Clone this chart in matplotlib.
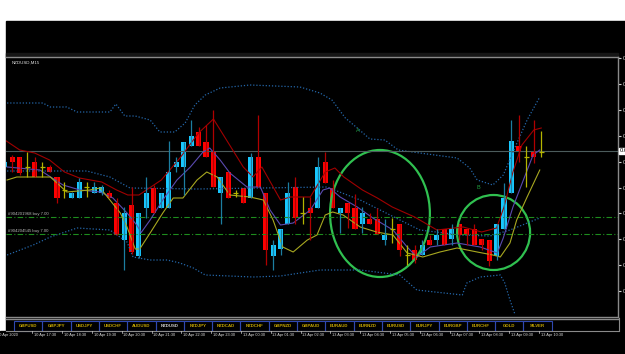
import matplotlib
matplotlib.use("Agg")
import matplotlib.pyplot as plt
from matplotlib.patches import Rectangle, Ellipse
import numpy as np

plt.rcParams["font.family"] = ["Liberation Sans", "DejaVu Sans"]

# ---- data (prices in 1e-5 points, NZDUSD M15) ----
opens = [60732, 60772, 60772, 60732, 60752, 60732, 60732, 60692, 60640, 60608,
         60608, 60652, 60628, 60628, 60628, 60588, 60440, 60580, 60376, 60568,
         60648, 60568, 60568, 60732, 60732, 60816, 60872, 60832, 60792, 60628,
         60712, 60628, 60648, 60608, 60772, 60628, 60376, 60404, 60504, 60652,
         60548, 60568, 60568, 60752, 60648, 60548, 60588, 60568, 60504, 60524,
         60524, 60440, 60484, 60504, 60380, 60400, 60380, 60440, 60440, 60484,
         60444, 60504, 60484, 60484, 60444, 60440, 60376, 60484, 60628, 60816,
         60772, 60792, 60792]
highs = [60760, 60780, 60772, 60792, 60772, 60752, 60740, 60692, 60672, 60632,
         60688, 60672, 60672, 60660, 60640, 60608, 60572, 60652, 60548, 60692,
         60660, 60628, 60836, 60772, 60832, 60920, 60892, 60900, 60960, 60692,
         60712, 60640, 60648, 60788, 60940, 60628, 60440, 60484, 60672, 60692,
         60612, 60612, 60772, 60792, 60680, 60568, 60588, 60624, 60572, 60548,
         60568, 60524, 60528, 60504, 60420, 60420, 60440, 60460, 60484, 60484,
         60504, 60504, 60484, 60504, 60444, 60440, 60504, 60668, 60920, 60940,
         60816, 60920, 60876]
lows = [60724, 60712, 60700, 60692, 60692, 60692, 60712, 60588, 60608, 60608,
        60608, 60612, 60628, 60620, 60608, 60460, 60320, 60384, 60368, 60528,
        60548, 60568, 60568, 60712, 60620, 60816, 60816, 60772, 60652, 60504,
        60608, 60612, 60588, 60608, 60652, 60340, 60320, 60380, 60504, 60504,
        60504, 60440, 60568, 60668, 60568, 60468, 60488, 60484, 60468, 60504,
        60464, 60420, 60428, 60376, 60340, 60348, 60380, 60420, 60420, 60420,
        60420, 60440, 60420, 60420, 60400, 60336, 60360, 60484, 60628, 60752,
        60652, 60748, 60772]
closes = [60752, 60752, 60708, 60732, 60692, 60732, 60712, 60608, 60640, 60628,
          60672, 60652, 60652, 60652, 60608, 60460, 60548, 60392, 60548, 60628,
          60548, 60628, 60712, 60752, 60832, 60856, 60816, 60772, 60652, 60692,
          60608, 60628, 60588, 60772, 60652, 60400, 60420, 60484, 60628, 60528,
          60548, 60548, 60732, 60668, 60568, 60568, 60548, 60484, 60548, 60504,
          60464, 60460, 60484, 60400, 60380, 60360, 60420, 60420, 60460, 60420,
          60484, 60460, 60460, 60420, 60420, 60356, 60504, 60608, 60836, 60792,
          60772, 60772, 60792]

# moving averages (candle index, price)
ma_red_x = [0, 2, 4, 6, 8, 10, 13, 15, 16.5, 18, 21, 23.5, 26, 28, 30, 32, 33.3, 34.5,
            37, 38.3, 41, 43, 44.3, 45.5, 48, 50, 52, 55, 58, 61.5, 64, 66, 67, 68.2,
            69.4, 71, 72]
ma_red = [60840, 60800, 60788, 60760, 60712, 60688, 60672, 60640, 60620, 60620, 60680,
          60768, 60868, 60924, 60828, 60732, 60692, 60732, 60600, 60612, 60612, 60712,
          60728, 60692, 60640, 60608, 60572, 60532, 60480, 60492, 60472, 60488, 60572,
          60712, 60820, 60880, 60888]
ma_purple_x = [0.3, 4.7, 7.8, 10.1, 12.8, 14.5, 16.4, 17.7, 18.3, 19.5, 21.2, 23.1, 24.9,
               26.6, 27.5, 28.9, 30.2, 32.5, 34.3, 35.6, 37, 38.7, 41, 42.7, 43.6, 45,
               47.3, 49.4, 52.1, 54, 55.3, 57.1, 60.7, 63.8, 66.1, 66.9, 68.2, 69.6,
               70.9, 71.8]
ma_purple = [60732, 60720, 60660, 60640, 60632, 60608, 60548, 60500, 60470, 60520, 60600,
             60680, 60732, 60792, 60808, 60760, 60708, 60652, 60652, 60560, 60500, 60508,
             60560, 60640, 60648, 60612, 60572, 60528, 60480, 60412, 60372, 60412, 60428,
             60412, 60388, 60448, 60572, 60680, 60780, 60800]
ma_yellow_x = [0.3, 1.6, 6.1, 7, 8.3, 11.4, 12.8, 14.1, 15.5, 16.4, 17.5, 18.1, 19.5, 21.2,
               22.6, 23.9, 25.8, 27.1, 28.5, 30.2, 32.9, 34.7, 36, 37.3, 38.7, 40.6, 41.9,
               43, 44, 45.4, 47.7, 49.9, 52.1, 54, 56.1, 58.4, 60.7, 63.4, 65.5, 66.5,
               67.8, 68.7, 70.1, 71.8]
ma_yellow = [60680, 60692, 60692, 60668, 60632, 60640, 60648, 60600, 60548, 60492, 60404,
             60404, 60468, 60548, 60608, 60608, 60680, 60712, 60692, 60620, 60612, 60600,
             60520, 60412, 60392, 60440, 60460, 60540, 60552, 60540, 60492, 60472, 60460,
             60388, 60372, 60392, 60408, 60392, 60380, 60372, 60428, 60520, 60612, 60720]

# bollinger bands
bb_up_x = [0.3, 5.1, 6.1, 8.3, 9.7, 14.1, 14.9, 16.1, 17.5, 19.5, 20.8, 22.8, 24.2, 25.5,
           26.9, 28.9, 32.9, 39.6, 42.3, 43.9, 45.7, 47.3, 49, 51, 52.8, 55.7, 60.7,
           62.4, 63.4, 65.5, 66.9, 68.5, 70.1, 71.8]
bb_up = [60988, 60988, 60972, 60972, 60952, 60952, 60984, 60936, 60936, 60920, 60872,
         60872, 60908, 60980, 61020, 61048, 61060, 61052, 61028, 61000, 60928, 60888,
         60844, 60840, 60800, 60788, 60768, 60728, 60680, 60660, 60700, 60812, 60920, 61012]
bb_mid_x = [0.3, 11, 14.1, 16.8, 25.8, 43.2, 47.7, 51.7, 55.7, 61.1, 65.1, 67.8, 71.8]
bb_mid = [60716, 60716, 60692, 60648, 60644, 60652, 60600, 60540, 60480, 60460, 60456,
          60480, 60528]
bb_lo_x = [0.3, 3.8, 6.1, 9.7, 14.1, 16.4, 17.2, 19.5, 21.8, 23.5, 25.3, 26.9, 33.3, 37,
           42.3, 47.7, 53, 55.3, 61.4, 62, 63.8, 66.5, 67.1, 67.8, 68.5]
bb_lo = [60380, 60420, 60452, 60488, 60480, 60432, 60372, 60360, 60360, 60348, 60328,
         60300, 60292, 60296, 60320, 60320, 60300, 60240, 60220, 60268, 60292, 60300,
         60268, 60200, 60140]

bid = 60796
orders = [("#904201968 buy 7.00", 60532), ("#904204545 buy 7.00", 60464)]
price_ticks = [61168, 61064, 60960, 60856, 60752, 60648, 60548, 60444, 60340, 60236]

time_idx = [-1, 4, 8, 12, 16, 20, 24, 28, 32, 36, 40, 44, 48, 52, 56, 60, 64, 68, 72]
time_lbl = ["10 Apr 2020", "10 Apr 17:30", "10 Apr 18:30", "10 Apr 19:30", "10 Apr 20:30",
            "10 Apr 21:30", "10 Apr 22:30", "10 Apr 23:30", "13 Apr 00:30", "13 Apr 01:30",
            "13 Apr 02:30", "13 Apr 03:30", "13 Apr 04:30", "13 Apr 05:30", "13 Apr 06:30",
            "13 Apr 07:30", "13 Apr 08:30", "13 Apr 09:30", "13 Apr 10:30"]
tabs = ["GBPUSD", "GBPJPY", "USDJPY", "USDCHF", "AUDUSD", "NZDUSD", "NZDJPY", "NZDCAD",
        "NZDCHF", "GBPNZD", "GBPAUD", "EURAUD", "EURNZD", "EURUSD", "EURJPY", "EURGBP",
        "EURCHF", "GOLD", "SILVER"]

pts = 1e-5
o = np.array(opens) * pts
h = np.array(highs) * pts
l = np.array(lows) * pts
c = np.array(closes) * pts
idx = np.arange(len(o))

W, H = 625, 354
fig = plt.figure(figsize=(W / 100, H / 100), dpi=100)
fig.patch.set_facecolor("white")

# background / frame in pixel coordinates
bg = fig.add_axes([0, 0, 1, 1])
bg.set_xlim(0, W)
bg.set_ylim(H, 0)
bg.axis("off")
bg.add_patch(Rectangle((6, 20.5), W - 6, H - 20.5, color="black"))
bg.add_patch(Rectangle((0, 331), 6, H - 331, color="black"))
bg.add_patch(Rectangle((6, 53), 612, 4, color="#161616"))
bg.plot([6, 618], [318.5, 318.5], color="#8a8a8a", lw=1)
bg.plot([6, 618], [330.5, 330.5], color="#8a8a8a", lw=0.8)
bg.plot([618.5, 618.5], [318, 331], color="#8a8a8a", lw=0.8)
for k, t in enumerate(tabs):
    x0 = 14 + k * 28.3
    bg.add_patch(Rectangle((x0, 320.5), 28.3, 10, fill=False, ec="#2f48b0", lw=0.8))
    bg.text(x0 + 14.15, 325.7, t, color="#d0d0d0" if t == "NZDUSD" else "#c8a800",
            fontsize=3.2, ha="center", va="center", fontweight="bold")

# main chart
ax = fig.add_axes([6 / W, 1 - 317 / H, 612 / W, 260 / H])
ax.set_facecolor("black")
ax.set_xlim(0.154, 82.3)
ax.set_ylim(0.60132, 0.61172)
ax.spines["left"].set_visible(False)
for s in ["top", "right", "bottom"]:
    ax.spines[s].set_color("#8a8a8a")
    ax.spines[s].set_linewidth(1)
ax.set_xticks([])
ax.yaxis.tick_right()
ax.set_yticks(np.array(price_ticks) * pts)
ax.set_yticklabels(["%.5f" % (p * pts) for p in price_ticks])
ax.tick_params(axis="y", colors="#d0d0d0", labelsize=4.2, length=2, pad=1.5)

# bands
for bx, by in [(bb_up_x, bb_up), (bb_mid_x, bb_mid), (bb_lo_x, bb_lo)]:
    ax.plot(bx, np.array(by) * pts, color="#2466a8", lw=0.9, ls=(0, (1, 1.5)))

# horizontal lines
ax.axhline(bid * pts, color="#4c5c5c", lw=0.8)
for lbl, p in orders:
    ax.axhline(p * pts, color="#1e8c1e", lw=0.8, ls=(0, (5, 2, 1, 2)))
    ax.text(0.42, p * pts + 0.00003, lbl, color="#b8b8b8", fontsize=3.1, va="bottom")

# moving averages
ax.plot(ma_red_x, np.array(ma_red) * pts, color="#a00000", lw=0.8)
ax.plot(ma_purple_x, np.array(ma_purple) * pts, color="#5a4ab0", lw=0.8)
ax.plot(ma_yellow_x, np.array(ma_yellow) * pts, color="#a8a820", lw=0.8)

# candles
bw = 0.68
up = c > o
dn = c < o
dj = c == o
ax.vlines(idx[up], l[up], h[up], color="#1c7ea0", lw=0.9)
ax.vlines(idx[dn], l[dn], h[dn], color="#b00000", lw=0.9)
ax.vlines(idx[dj], l[dj], h[dj], color="#b4b400", lw=0.9)
ax.bar(idx[up], c[up] - o[up], bottom=o[up], width=bw, color="#18c8ff", lw=0)
ax.bar(idx[dn], o[dn] - c[dn], bottom=c[dn], width=bw, color="#ff0000", lw=0)
ax.hlines(c[dj], idx[dj] - bw / 2, idx[dj] + bw / 2, color="#b4b400", lw=0.9)

# drawn annotations
ax.add_patch(Ellipse((50.35, 0.60546), 13.4, 0.00508, fill=False, ec="#30c050", lw=1.6))
ax.add_patch(Ellipse((65.6, 0.60470), 9.8, 0.00300, fill=False, ec="#30c050", lw=1.6))
ax.text(47.4, 0.60880, "A", color="#20a040", fontsize=4, ha="center", va="center")
ax.text(63.6, 0.60648, "B", color="#20a040", fontsize=4, ha="center", va="center")
ax.text(0.01, 0.985, "NZDUSD,M15", transform=ax.transAxes, color="#e0e0e0",
        fontsize=3.2, va="top")

# bid label
ax.text(1.003, bid * pts, "%.5f" % (bid * pts), transform=ax.get_yaxis_transform(),
        color="black", fontsize=4.2, va="center", ha="left", clip_on=False,
        bbox=dict(boxstyle="square,pad=0.15", fc="white", ec="white"))

# time axis labels
tr = ax.get_xaxis_transform()
for ti, tl in zip(time_idx, time_lbl):
    ax.plot([ti - 0.3, ti - 0.3], [-0.052, -0.062], transform=tr, color="#d0d0d0",
            lw=0.5, clip_on=False)
    ax.text(ti - 0.1, -0.068, tl, transform=tr, color="#e0e0e0", fontsize=2.8,
            va="center", ha="left", clip_on=False)

fig.savefig("out.png", dpi=100, facecolor=fig.get_facecolor())
